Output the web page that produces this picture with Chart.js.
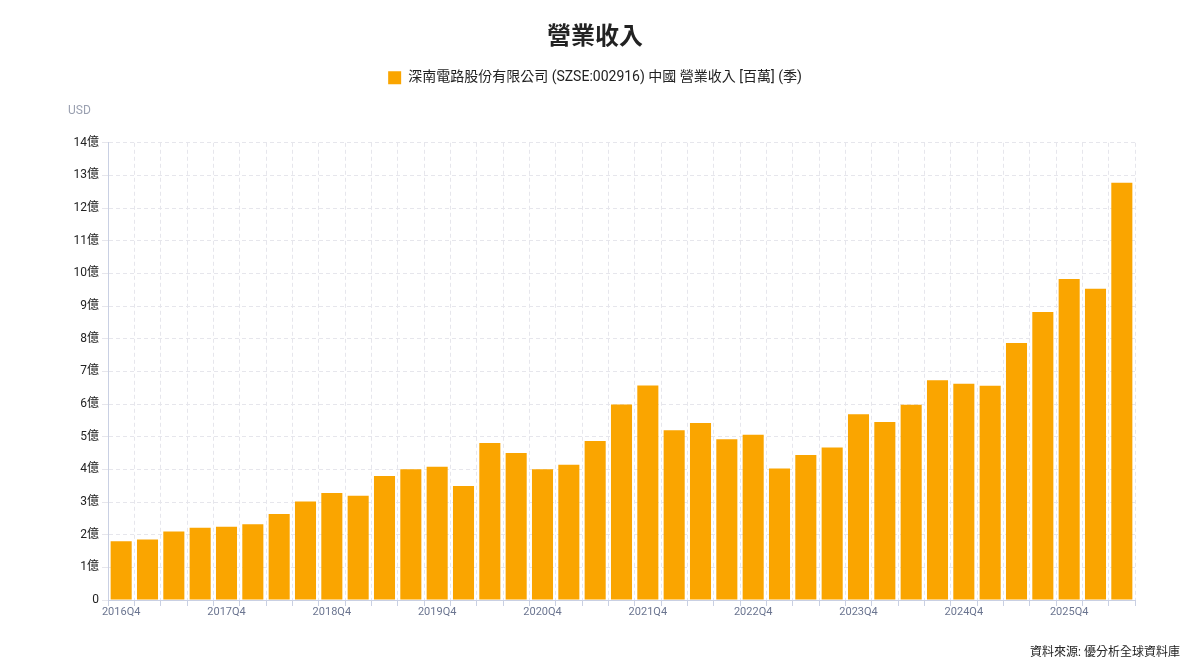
<!DOCTYPE html>
<html>
<head>
<meta charset="utf-8">
<script src="https://cdn.jsdelivr.net/npm/chart.js@4.4.1/dist/chart.umd.min.js"></script>
<style>
  html, body { margin: 0; padding: 0; background: #fff; }
  #wrap { position: relative; width: 1200px; height: 671px; }
  #usd { position: absolute; left: 68px; top: 103px; font: 12px Roboto, 'Noto Sans CJK TC', sans-serif; color: #9aa0b0; }
  #src { position: absolute; right: 20px; top: 642px; font: 12px Roboto, 'Noto Sans CJK TC', sans-serif; color: #222; }
</style>
</head>
<body>
<div id="wrap">
  <canvas id="c" width="1200" height="671"></canvas>
  <div id="usd">USD</div>
  <div id="src">資料來源: 優分析全球資料庫</div>
</div>
<script>
const FONT = "Roboto, 'Noto Sans CJK TC', sans-serif";
const chartTitle = '營業收入';
const seriesName = '深南電路股份有限公司 (SZSE:002916) 中國 營業收入 [百萬] (季)';
const quarters = [
  '2016Q4','2017Q1','2017Q2','2017Q3','2017Q4','2018Q1','2018Q2','2018Q3',
  '2018Q4','2019Q1','2019Q2','2019Q3','2019Q4','2020Q1','2020Q2','2020Q3',
  '2020Q4','2021Q1','2021Q2','2021Q3','2021Q4','2022Q1','2022Q2','2022Q3',
  '2022Q4','2023Q1','2023Q2','2023Q3','2023Q4','2024Q1','2024Q2','2024Q3',
  '2024Q4','2025Q1','2025Q2','2025Q3','2025Q4','2026Q1','2026Q2'
];
// revenue in 億 (hundred millions)
const revenue = [
  1.80, 1.85, 2.10, 2.21, 2.24, 2.32, 2.63, 3.02,
  3.28, 3.19, 3.80, 4.00, 4.08, 3.49, 4.81, 4.50,
  4.00, 4.14, 4.87, 5.99, 6.57, 5.20, 5.42, 4.92,
  5.06, 4.03, 4.44, 4.67, 5.69, 5.45, 5.98, 6.73,
  6.62, 6.56, 7.87, 8.82, 9.83, 9.53, 12.78
];
const yMax = 14;
const yStep = 1;
const barColor = '#FAA500';

const legendSpacer = {
  id: 'legendSpacer',
  beforeInit(chart) {
    const fit = chart.legend.fit;
    chart.legend.fit = function () {
      fit.bind(chart.legend)();
      this.height += 48;
    };
  }
};

new Chart(document.getElementById('c'), {
  type: 'bar',
  data: {
    labels: quarters,
    datasets: [{
      label: seriesName,
      data: revenue,
      backgroundColor: barColor,
      borderWidth: 0,
      barPercentage: 0.8,
      categoryPercentage: 1.0
    }]
  },
  plugins: [legendSpacer],
  options: {
    responsive: false,
    animation: false,
    devicePixelRatio: 1,
    layout: { padding: { left: 0, right: 10, top: 0, bottom: 51 } },
    plugins: {
      title: {
        display: true,
        text: chartTitle,
        color: '#222',
        font: { family: FONT, size: 24, weight: 'bold' },
        padding: { top: 24, bottom: 8 }
      },
      legend: {
        display: true,
        labels: {
          boxWidth: 13,
          boxHeight: 13,
          color: '#222',
          font: { family: FONT, size: 14 },
          padding: 10
        }
      },
      tooltip: { enabled: false }
    },
    scales: {
      x: {
        grid: {
          display: true,
          offset: true,
          color: '#e6e6ec',
          tickColor: '#c9d0e3',
          tickLength: 6,
          tickBorderDash: [],
          drawTicks: true
        },
        border: { display: true, color: '#c9d0e3', dash: [4, 3] },
        ticks: {
          autoSkip: false,
          maxRotation: 0,
          padding: 0,
          color: '#6b7590',
          font: { family: FONT, size: 11 },
          callback: function (v, i) { return i % 4 === 0 ? quarters[i] : ''; }
        },
        afterFit(scale) { scale.height = 20; }
      },
      y: {
        min: 0,
        max: yMax,
        grid: {
          color: '#e6e6ec',
          tickColor: '#e6e6ec',
          tickLength: 6,
          drawTicks: true
        },
        border: { display: true, color: '#c9d0e3', dash: [4, 3] },
        ticks: {
          stepSize: yStep,
          padding: 3,
          color: '#222',
          font: { family: FONT, size: 12 },
          callback: function (v) { return v === 0 ? '0' : v + '億'; }
        },
        afterFit(scale) { scale.width = 108; }
      },
      y2: {
        position: 'right',
        display: true,
        grid: { display: false },
        border: { display: false },
        ticks: { display: false },
        afterFit(scale) { scale.width = 55; }
      }
    }
  },
});
</script>
</body>
</html>
